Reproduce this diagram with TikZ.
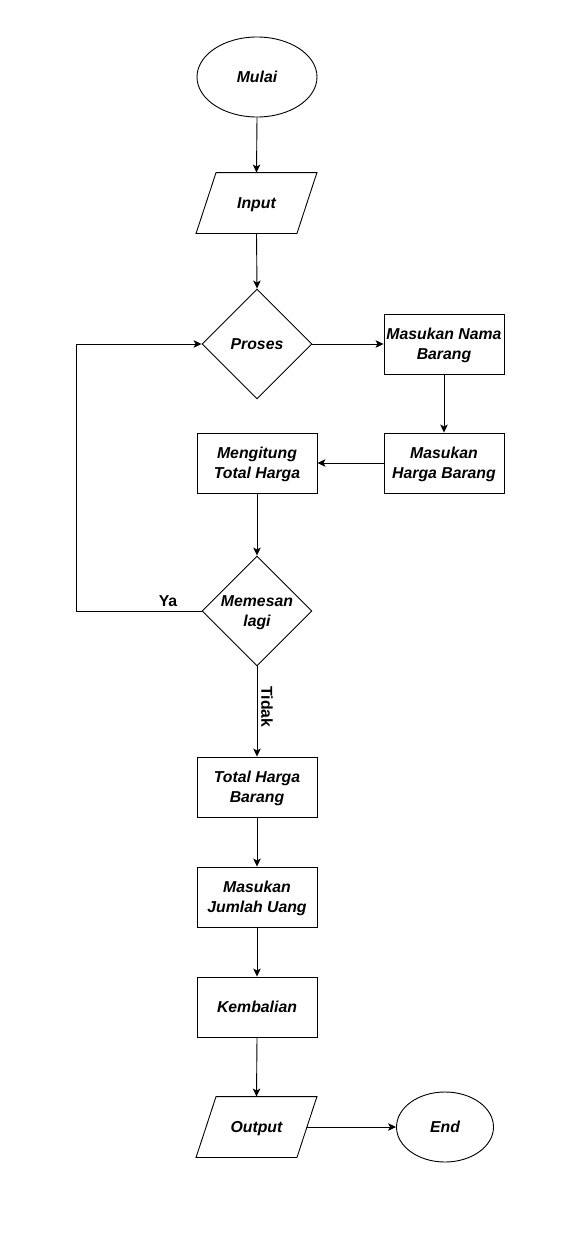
\documentclass[tikz,border=0pt]{standalone}
\usepackage{fontspec}
\setmainfont{Liberation Sans}
\usetikzlibrary{shapes.geometric,arrows.meta}
\tikzset{
  base/.style={draw=black, line width=0.9pt, align=center, font=\fontsize{15.8}{19.8}\selectfont\bfseries\itshape, inner sep=0pt, text depth=0pt},
  stepbox/.style={base, rectangle, minimum width=120pt, minimum height=60pt},
  term/.style={base, ellipse},
  decide/.style={base, diamond, aspect=1, minimum width=110pt, minimum height=110pt},
  io/.style={base, draw=none, rectangle, minimum width=100pt, minimum height=60pt},
  arr/.style={line width=0.9pt, -{Stealth[length=8pt,width=7.5pt,inset=2pt]}},
  lbl/.style={font=\fontsize{15.8}{19.8}\selectfont\bfseries, inner sep=1pt}
}
\begin{document}
\begin{tikzpicture}[x=1pt,y=-1pt]
\useasboundingbox (0,0) rectangle (573,1239);
\node[term, minimum width=120pt, minimum height=80pt] (mulai) at (257,77) {Mulai};
\node[io] (inp) at (256.5,203) {Input};
\draw[line width=0.9pt] ([xshift=10pt]inp.north west) -- ([xshift=10pt]inp.north east) -- ([xshift=-10pt]inp.south east) -- ([xshift=-10pt]inp.south west) -- cycle;
\node[decide] (proses) at (257,344) {Proses};
\node[stepbox] (nama) at (444,344) {Masukan Nama\\Barang};
\node[stepbox] (harga) at (444,463) {Masukan\\Harga Barang};
\node[stepbox] (hitung) at (257,463) {Mengitung\\Total Harga};
\node[decide] (pesan) at (257,611) {Memesan\\lagi};
\node[stepbox] (total) at (257,787) {Total Harga\\Barang};
\node[stepbox] (uang) at (257,897) {Masukan\\Jumlah Uang};
\node[stepbox] (kembali) at (257,1007) {Kembalian};
\node[io] (outp) at (256.5,1127) {Output};
\draw[line width=0.9pt] ([xshift=10pt]outp.north west) -- ([xshift=10pt]outp.north east) -- ([xshift=-10pt]outp.south east) -- ([xshift=-10pt]outp.south west) -- cycle;
\node[term, minimum width=97pt, minimum height=70pt] (end) at (445,1127) {End};
\coordinate (lp) at (76.5,611);

\draw[arr] (mulai.south) -- (inp.north);
\draw[arr] (inp.south) -- (proses.north);
\draw[arr] (proses.east) -- (nama.west);
\draw[arr] (nama.south) -- (harga.north);
\draw[arr] (harga.west) -- (hitung.east);
\draw[arr] (hitung.south) -- (pesan.north);
\draw[arr] (pesan.west) -- (lp) |- (proses.west);
\node[lbl] (ya) at (168,601) {Ya};
\draw[arr] (pesan.south) -- (total.north);
\node[lbl, rotate=-90] (tidak) at (267,707) {Tidak};
\draw[arr] (total.south) -- (uang.north);
\draw[arr] (uang.south) -- (kembali.north);
\draw[arr] (kembali.south) -- (outp.north);
\draw[arr] (outp.east) -- (end.west);
\end{tikzpicture}
\end{document}
